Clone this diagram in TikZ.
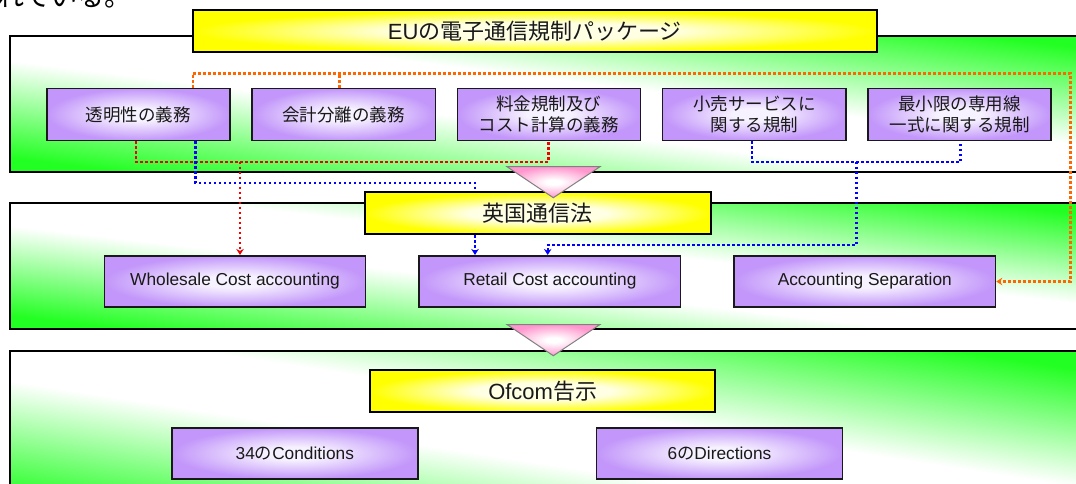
\documentclass[tikz,border=0pt]{standalone}
\usepackage{fontspec}
\setmainfont{Liberation Sans}
\newfontfamily\jfont{Noto Sans CJK JP}
\usetikzlibrary{positioning,arrows.meta}

\definecolor{pnlgreen}{RGB}{34,255,34}
\definecolor{boxlilac}{RGB}{194,150,250}
\definecolor{boxglow}{RGB}{247,242,255}
\definecolor{ttlyellow}{RGB}{255,255,0}
\definecolor{ttlglow}{RGB}{255,255,228}
\definecolor{tripink}{RGB}{255,150,205}
\definecolor{lnorange}{RGB}{255,102,0}
\definecolor{lnred}{RGB}{240,0,0}
\definecolor{lnblue}{RGB}{0,0,255}

\pgfdeclareverticalshading{pnlshade}{100bp}{color(0bp)=(pnlgreen); color(25bp)=(pnlgreen); color(45bp)=(white); color(55bp)=(white); color(75bp)=(pnlgreen); color(100bp)=(pnlgreen)}
\pgfdeclareradialshading{boxshade}{\pgfpoint{0bp}{0bp}}{color(0bp)=(boxglow); color(6bp)=(boxglow); color(25bp)=(boxlilac); color(50bp)=(boxlilac)}
\pgfdeclareradialshading{ttlshade}{\pgfpoint{0bp}{0bp}}{color(0bp)=(ttlglow); color(10bp)=(ttlglow); color(25bp)=(ttlyellow); color(50bp)=(ttlyellow)}
\pgfdeclareradialshading{trishade}{\pgfpoint{0bp}{0bp}}{color(0bp)=(white); color(4bp)=(white); color(25bp)=(tripink); color(50bp)=(tripink)}

\begin{document}
\begin{tikzpicture}[x=1pt,y=-1pt]
		\tikzstyle{panel}=[draw=black, line width=1.8pt, shade, shading=pnlshade]
		\tikzstyle{tbox}=[draw=black, line width=2pt, shade, shading=ttlshade, minimum height=42pt, inner sep=0pt, text=black!90, font=\fontsize{22}{26}\selectfont]
		\tikzstyle{pbox}=[draw=black!90, line width=1.6pt, shade, shading=boxshade, minimum width=183.3pt, minimum height=52pt, inner sep=0pt, align=center, text=black!90, font=\jfont\fontsize{17.5}{21.5}\selectfont, node distance=20.4pt]
		\tikzstyle{wbox}=[pbox, minimum width=261.3pt, minimum height=51.5pt, font=\fontsize{17.3}{20}\selectfont, node distance=52pt]
		\tikzstyle{cbox}=[wbox, minimum width=245.7pt, minimum height=51.3pt, node distance=177.3pt]
		\tikzstyle{dotl}=[line width=2.4pt, dash pattern=on 2.4pt off 2.6pt]
		\tikzstyle{arr}=[-{Stealth[length=6pt,width=7.5pt]}]
		\tikzstyle{tri}=[draw=black!50, line width=1pt, shade, shading=trishade]
		\useasboundingbox (0,0) rectangle (1076,483);
		\clip (0,0) rectangle (1076,483);
		
		\path[panel, shading angle=-7.1] (10.3,36) rectangle (1100,171.7);
		\path[panel, shading angle=-6.6] (10.3,203) rectangle (1100,328.7);
		\path[panel, shading angle=-8.8] (10.3,351) rectangle (1100,520);
		
		\node[font=\jfont\fontsize{27}{27}\selectfont, anchor=base west, inner sep=0pt] (lead) at (-3,6.4) {れている。};
		
		\node[tbox, minimum width=684.2pt] (t1) at (534.9,31.15) {EU{\jfont の電子通信規制パッケージ}};
		\node[tbox, minimum width=345.7pt] (t2) at (537.85,213.4) {\jfont 英国通信法};
		\node[tbox, minimum width=344.7pt] (t3) at (542.65,391.15) {Ofcom{\jfont 告示}};
		
		\node[pbox] (tou) at (138.35,114.4) {透明性の義務};
		\node[pbox] (kai) [right=of tou] {会計分離の義務};
		\node[pbox] (ryo) [right=of kai] {料金規制及び\\コスト計算の義務};
		\node[pbox] (kou) [right=of ryo] {小売サービスに\\関する規制};
		\node[pbox] (sai) [right=of kou] {最小限の専用線\\一式に関する規制};
		
		\node[wbox] (ws) at (235,281.5) {Wholesale Cost accounting};
		\node[wbox] (rt) [right=of ws] {Retail Cost accounting};
		\node[wbox] (as) [right=of rt] {Accounting Separation};
		
		\node[cbox] (cn) at (294.85,453.35) {34{\jfont の}Conditions};
		\node[cbox] (dr) [right=of cn] {6{\jfont の}Directions};
		
		% orange
		\coordinate (oa) at (192.7,73.3);
		\coordinate (ob) at (339.3,73.3);
		\coordinate (oc) at (1070.4,73.3);
		\draw[dotl, lnorange, arr] (tou.north -| oa) -- (oa) -- (oc) |- (as.east);
		\draw[dotl, lnorange] (kai.north -| ob) -- (ob);
		
		% red
		\coordinate (ra) at (135.7,161.7);
		\coordinate (rb) at (548.3,161.7);
		\coordinate (rc) at (240,161.7);
		\draw[dotl, lnred] (tou.south -| ra) -- (ra) -- (rb) -- (ryo.south -| rb);
		\draw[dotl, lnred, arr] (rc) -- (ws.north -| rc);
		
		% blue
		\coordinate (ba) at (195.3,182.7);
		\coordinate (bb) at (475,182.7);
		\draw[dotl, lnblue] (tou.south -| ba) -- (ba) -- (bb) -- (t2.north -| bb);
		\draw[dotl, lnblue, arr] (t2.south -| bb) -- (rt.north -| bb);
		\coordinate (bc) at (751.7,161.7);
		\coordinate (bd) at (960.6,161.7);
		\coordinate (be) at (856.3,161.7);
		\coordinate (bf) at (856.3,245);
		\coordinate (bg) at (547.7,245);
		\draw[dotl, lnblue] (kou.south -| bc) -- (bc) -- (bd) -- (sai.south -| bd);
		\draw[dotl, lnblue, arr] (be) -- (bf) -- (bg) -- (rt.north -| bg);
		
		\path[tri] (507,166.7) -- (600,166.7) -- (553.3,197.7) -- cycle;
		\path[tri] (507,324.5) -- (600,324.5) -- (553.3,355.7) -- cycle;
		
\end{tikzpicture}
\end{document}
